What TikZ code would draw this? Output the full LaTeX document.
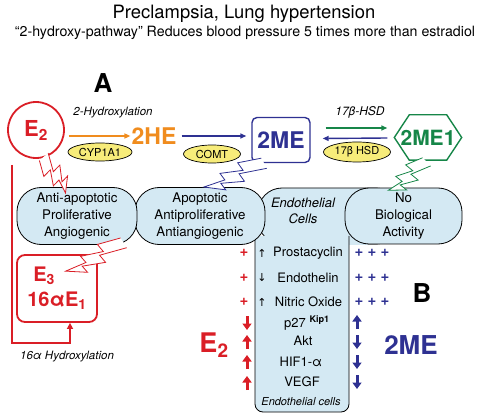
\documentclass[tikz,border=0pt]{standalone}
\usepackage{fontspec}
\setmainfont{TeX Gyre Heros}
\newfontfamily\symfont{DejaVu Sans}
\usetikzlibrary{shapes.geometric,arrows.meta,calc,positioning}

\definecolor{e2red}{RGB}{218,30,38}
\definecolor{heorange}{RGB}{240,140,30}
\definecolor{meblue}{RGB}{46,49,146}
\definecolor{megreen}{RGB}{22,134,72}
\definecolor{enzyellow}{RGB}{247,236,122}
\definecolor{cellblue}{RGB}{212,233,243}

\tikzset{
  enzyme/.style={ellipse, draw=black, line width=0.7pt, fill=enzyellow, inner sep=0pt, font=\fontsize{11}{13}\selectfont},
  cellbox/.style={draw=black, line width=0.8pt, fill=cellblue, rounded corners=24pt},
  celltext/.style={align=center, inner sep=0pt, font=\fontsize{13.3}{17}\selectfont},
  colitem/.style={inner sep=0pt, font=\fontsize{13}{15}\selectfont},
  colarrow/.style={inner sep=0pt, font=\symfont\fontsize{11}{13}\selectfont},
  flow/.style={-{Triangle[width=5pt,length=6pt]}, line width=1.4pt},
  fatarrow/.style={-{Triangle[width=9pt,length=6.5pt]}, line width=3pt},
  zap/.style={fill=white, line width=0.8pt, line join=miter},
  bigmol/.style={inner sep=1pt, font=\bfseries\fontsize{23}{25}\selectfont},
  panel/.style={inner sep=0pt, font=\bfseries\fontsize{26}{28}\selectfont},
  pathnote/.style={inner sep=0pt, font=\itshape\fontsize{11.5}{13}\selectfont},
  plusmark/.style={inner sep=0pt, font=\bfseries\fontsize{15}{17}\selectfont},
}

% lightning bolt from #1 (wide end) to #2 (tip), colour #3
\newcommand\zapbolt[3]{%
  \path let \p1=($(#2)-(#1)$) in
    \pgfextra{\pgfmathsetmacro\zapang{atan2(\y1,\x1)}%
              \pgfmathsetmacro\zaplen{veclen(\x1,\y1)}%
              \xdef\zapang{\zapang}\xdef\zaplen{\zaplen}};
  \begin{scope}[shift={(#1)}, rotate=\zapang, x=\zaplen pt, y=1.15pt]
    \filldraw[zap, draw=#3] (0,7) -- (0.42,0) -- (0.40,8) -- (0.74,0) -- (0.72,7) -- (1,-4)
      -- (0.66,-1) -- (0.68,-8) -- (0.34,-1) -- (0.36,-9) -- (0,-3);
  \end{scope}}

\begin{document}
\begin{tikzpicture}[x=1pt, y=-1pt]
  \useasboundingbox (0,0) rectangle (488,417);

  %% titles
  \node[font=\fontsize{18.4}{20}\selectfont] (title) at (244,14) {Preclampsia, Lung hypertension};
  \node[font=\fontsize{14.2}{16}\selectfont] (subtitle) at (245,33) {“2-hydroxy-pathway” Reduces blood pressure 5 times more than estradiol};

  %% panel A: metabolic pathway
  \node[panel] (pa) at (103,83) {A};
  \node[circle, draw=e2red, line width=1.8pt, minimum size=56pt, inner sep=0pt, text=e2red,
        font=\bfseries\fontsize{22}{24}\selectfont] (e2) at (36,130) {E\textsubscript{2}};
  \node[bigmol, text=heorange] (he) at (154,136) {2HE};
  \node[bigmol, text=meblue, draw=meblue, line width=1.4pt, rounded corners=5pt,
        minimum width=58pt, minimum height=45pt] (me) at (281,140) {2ME};
  \node[bigmol, text=megreen, font=\bfseries\fontsize{21}{23}\selectfont,
        minimum width=67pt, minimum height=45pt] (hex) at (428,137.5) {2ME1};
  \draw[megreen, line width=1.4pt] (hex.west) -- ([xshift=15pt]hex.north west) -- ([xshift=-15pt]hex.north east)
    -- (hex.east) -- ([xshift=-15pt]hex.south east) -- ([xshift=15pt]hex.south west) -- cycle;

  \node[enzyme, minimum width=64pt, minimum height=18pt] (cyp) at (100,152) {CYP1A1};
  \node[enzyme, minimum width=57pt, minimum height=18pt] (comt) at (212,154) {COMT};
  \node[enzyme, minimum width=67pt, minimum height=20pt] (hsd) at (357,152) {17β HSD};
  \node[pathnote] (hydro) at (113,113) {2-Hydroxylation};
  \node[pathnote, font=\itshape\fontsize{12}{14}\selectfont] (hsdnote) at (360,112) {17β-HSD};

  \draw[flow, heorange] ($(e2.east |- he.west)+(4,0)$) -- (he.west);
  \draw[flow, meblue] ($(he.east)+(4,0)$) -- ($(he.east -| me.west)+(-5,0)$);
  \draw[flow, megreen] ($(me.east)+(15,-12)$) -- ($(hex.west)+(-7,-9.5)$);
  \draw[flow, meblue] ($(hex.west)+(-7,0.5)$) -- ($(me.east)+(12,-1.5)$);

  %% cell boxes
  \draw[cellbox] (258,188) rectangle (400,244);
  \node[celltext, font=\itshape\fontsize{13}{15.5}\selectfont] (endo) at (303,211) {Endothelial\\Cells};
  \fill[cellblue] (255.4,236) rectangle (368,244.6);
  \draw[line width=0.8pt, fill=cellblue, rounded corners=8pt] (255,236) -- (255,412) -- (349,412) -- (349,236);
  \node[cellbox, celltext, minimum width=117pt, minimum height=56pt] (nobio) at (403.5,216) {No\\Biological\\Activity};
  \node[cellbox, celltext, minimum width=130pt, minimum height=57pt] (apop) at (200,216) {Apoptotic\\Antiproliferative\\Antiangiogenic};
  \node[cellbox, celltext, minimum width=120pt, minimum height=57pt] (anti) at (77,216) {Anti-apoptotic\\Proliferative\\Angiogenic};

  %% 16alpha branch
  \node[draw=e2red, line width=1.8pt, rounded corners=8pt, minimum width=80pt, minimum height=67pt,
        text=e2red, align=left, inner sep=2pt, font=\bfseries\fontsize{20}{25}\selectfont] (e3) at (57,288.5)
        {\hspace*{6pt}E\textsubscript{3}\\16αE\textsubscript{1}};
  \coordinate (hydtop) at (12,165);
  \coordinate (hydcorner) at ($(e3.south)+(13,20)$);
  \draw[e2red, line width=1.8pt, -{Triangle[width=6pt,length=6pt]}]
    (hydtop) -- (hydtop |- hydcorner) -- (hydcorner) -- ($(e3.south)+(13,0)$);
  \node[pathnote] (hydro16) at (67,357) {16α Hydroxylation};

  %% lightning bolts
  \zapbolt{e2.-78}{$(anti.north)+(-8,3)$}{e2red}
  \zapbolt{$(anti.south east)+(-15,-4)$}{$(e3.north)+(11,21)$}{e2red}
  \zapbolt{$(me.south)+(-18,-2)$}{$(apop.north)+(6,4)$}{meblue}
  \zapbolt{$(hex.south)+(-3,0)$}{$(nobio.north)+(-12,6)$}{megreen}

  %% panel B: endothelial markers
  \node[colarrow] (aprost) at (262,253) {↑};
  \node[colarrow] (aendo) at (262,278) {↓};
  \node[colarrow] (anitric) at (262,302) {↑};
  \node[colitem] (prost) at (308,253) {Prostacyclin};
  \node[colitem] (endoth) at (308,278) {Endothelin};
  \node[colitem] (nitric) at (308.5,302) {Nitric Oxide};
  \node[colitem] (p27) at (307,323) {p27 \textsuperscript{\bfseries Kip1}};
  \node[colitem] (akt) at (303,341) {Akt};
  \node[colitem] (hif) at (301,362) {HIF1-α};
  \node[colitem] (vegf) at (302,382) {VEGF};
  \node[colitem, font=\itshape\fontsize{11}{13}\selectfont] (endocells) at (301,402) {Endothelial cells};

  \foreach \y in {253,278,302} {
    \node[plusmark, text=e2red] (rp\y) at (244,\y) {+};
    \node[plusmark, text=meblue] (bp\y) at (372,\y) {+ + +};
  }
  \foreach \y/\d in {323/1, 342/-1, 362/-1, 383/-1}
    \draw[fatarrow, e2red] (247,{\y-7*\d}) -- (247,{\y+7*\d});
  \foreach \y/\d in {322/-1, 342/1, 362/1, 382/1}
    \draw[fatarrow, meblue] (357,{\y-7*\d}) -- (357,{\y+7*\d});

  \node[panel] (pb) at (422,293) {B};
  \node[inner sep=0pt, text=e2red, font=\bfseries\fontsize{27}{29}\selectfont] (e2low) at (214,345) {E\textsubscript{2}};
  \node[inner sep=0pt, text=meblue, font=\bfseries\fontsize{26}{28}\selectfont] (melow) at (411,345) {2ME};
\end{tikzpicture}
\end{document}
